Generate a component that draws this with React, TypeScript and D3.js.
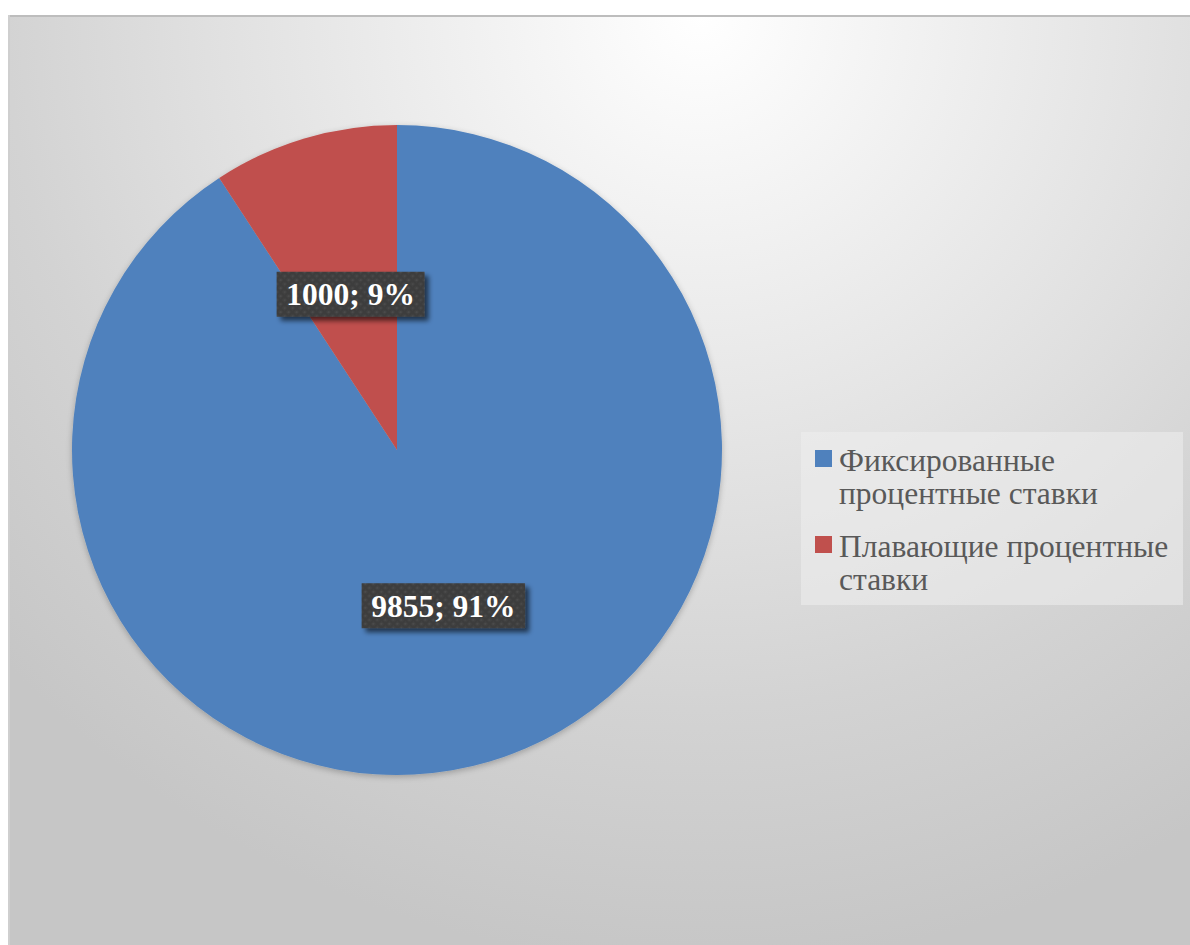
import React from "react";
import * as d3 from "d3";

const categories = ["Фиксированные процентные ставки", "Плавающие процентные ставки"];
const legendLines = [["Фиксированные", "процентные ставки"], ["Плавающие процентные", "ставки"]];
const values = [9855, 1000];
const colors = ["#4f81bd", "#c0504d"];

const W = 1190;
const H = 945;
const cx = 397;
const cy = 450;
const R = 325;

export default function App() {
  const total = d3.sum(values);
  const pie = d3.pie<number>().sort(null).value((d) => d);
  const arcs = pie(values);
  const arc = d3.arc<d3.PieArcDatum<number>>().innerRadius(0).outerRadius(R);
  const fmtPct = (v: number) => `${Math.round((v / total) * 100)}%`;

  return (
    <svg
      width={W}
      height={H}
      style={{ position: "absolute", left: 0, top: 0, display: "block" }}
      fontFamily="'Liberation Serif', 'Times New Roman', serif"
    >
      <defs>
        <radialGradient id="bg" gradientUnits="userSpaceOnUse" cx={700} cy={15} r={950}>
          <stop offset="0" stopColor="#ffffff" />
          <stop offset="0.52" stopColor="#e0e0e0" />
          <stop offset="0.73" stopColor="#d3d3d3" />
          <stop offset="1" stopColor="#c6c6c6" />
        </radialGradient>
        <pattern id="dots" width="8" height="8" patternUnits="userSpaceOnUse">
          <rect width="8" height="8" fill="#3e3e3e" />
          <circle cx="2" cy="2" r="1.3" fill="#4c4c4c" />
          <circle cx="6" cy="6" r="1.3" fill="#484848" />
        </pattern>
        <filter id="lblShadow" x="-20%" y="-30%" width="150%" height="180%">
          <feGaussianBlur in="SourceAlpha" stdDeviation="2.5" />
          <feOffset dx="4" dy="4" result="b" />
          <feComponentTransfer>
            <feFuncA type="linear" slope="0.6" />
          </feComponentTransfer>
          <feMerge>
            <feMergeNode />
            <feMergeNode in="SourceGraphic" />
          </feMerge>
        </filter>
        <filter id="pieShadow" x="-10%" y="-10%" width="120%" height="120%">
          <feGaussianBlur in="SourceAlpha" stdDeviation="3" />
          <feOffset dx="0" dy="2" />
          <feComponentTransfer>
            <feFuncA type="linear" slope="0.25" />
          </feComponentTransfer>
          <feMerge>
            <feMergeNode />
            <feMergeNode in="SourceGraphic" />
          </feMerge>
        </filter>
      </defs>
      <rect x={0} y={0} width={W} height={H} fill="#ffffff" />
      <rect x={8} y={15} width={W - 8} height={H - 15} fill="url(#bg)" />
      <line x1={8} y1={16} x2={W} y2={16} stroke="#bdbdbd" strokeWidth={2} />
      <line x1={9} y1={15} x2={9} y2={H} stroke="#cfcfcf" strokeWidth={2} />

      <g transform={`translate(${cx},${cy})`} filter="url(#pieShadow)">
        {arcs.map((a, i) => (
          <path key={categories[i]} d={arc(a) || ""} fill={colors[i]} />
        ))}
      </g>

      <g transform={`translate(${cx},${cy})`}>
        {arcs.map((a, i) => {
          const [x, y] = arc.centroid(a);
          const text = `${values[i]}; ${fmtPct(values[i])}`;
          const w = text.length * 15.5 + 24;
          const h = 45;
          return (
            <g key={"l" + i} transform={`translate(${x},${y})`}>
              <rect x={-w / 2} y={-h / 2} width={w} height={h} fill="url(#dots)" filter="url(#lblShadow)" />
              <text
                x={0}
                y={11}
                textAnchor="middle"
                fontSize={31.5}
                fontWeight="bold"
                fill="#ffffff"
              >
                {text}
              </text>
            </g>
          );
        })}
      </g>

      <g>
        <rect x={801} y={432} width={382} height={173} fill="#eeeeee" fillOpacity={0.55} />
        {legendLines.map((lines, i) => {
          const top = 450 + i * 86;
          return (
            <g key={"lg" + i}>
              <rect x={815} y={top} width={17} height={17} fill={colors[i]} />
              {lines.map((ln, j) => (
                <text key={j} x={839} y={top + 21 + j * 33} fontSize={31.5} fill="#595959">
                  {ln}
                </text>
              ))}
            </g>
          );
        })}
      </g>
    </svg>
  );
}
